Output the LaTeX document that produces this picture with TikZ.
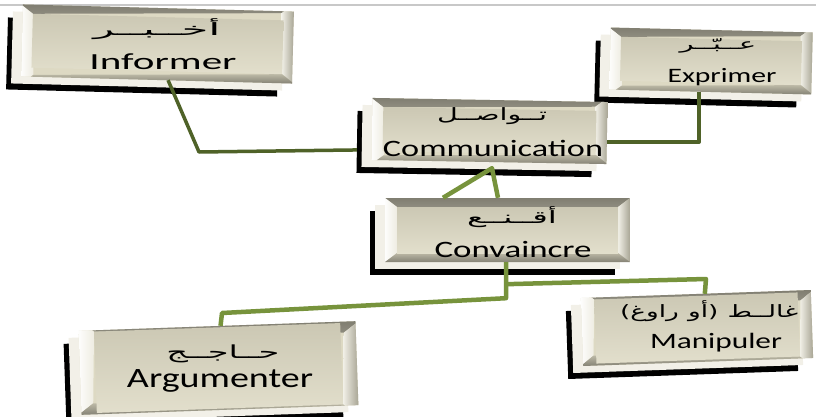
\documentclass[tikz,border=0pt]{standalone}
\usepackage{fontspec}
\usepackage{graphicx}
\setmainfont{Carlito}
\newfontfamily\arabicfont[Script=Arabic]{DejaVu Sans}
\newfontfamily\parenfont{DejaVu Sans}
\TeXXeTstate=1
\usetikzlibrary{calc,shadows}
\definecolor{tileface}{HTML}{DDD9C3}
\definecolor{extr}{HTML}{F2F0E8}
\definecolor{oliveA}{HTML}{4F6228}
\definecolor{oliveB}{HTML}{77933C}
\definecolor{topline}{HTML}{C8C8C8}
\newcommand{\FRtxt}[3]{\resizebox{#2pt}{\height}{\fontsize{#1}{#1}\selectfont #3}}
\newcommand{\ARtxt}[3]{\resizebox{#2pt}{\height}{\fontsize{#1}{#1}\selectfont\arabicfont\beginR #3\endR}}
\newcommand{\ARword}[1]{\hbox{\arabicfont\beginR #1\endR}}
\tikzset{
  tile/.style 2 args={rectangle, inner sep=0pt, draw=none, fill=tileface,
    general shadow={fill=black, shadow xshift=-15pt, shadow yshift=-13pt},
    general shadow={fill=extr, shadow xshift=-10pt, shadow yshift=-7pt},
    path picture={
      \shade[top color=tileface!40!black!70!tileface, bottom color=tileface!60!white]
        (path picture bounding box.north west) -- (path picture bounding box.north east)
        -- ([shift={(-#1,-#2)}]path picture bounding box.north east)
        -- ([shift={(#1,-#2)}]path picture bounding box.north west) -- cycle;
      \shade[left color=white!95!tileface, right color=tileface!50!white]
        (path picture bounding box.north west)
        -- ([shift={(#1,-#2)}]path picture bounding box.north west)
        -- ([shift={(#1,#2)}]path picture bounding box.south west)
        -- (path picture bounding box.south west) -- cycle;
      \shade[left color=tileface!40!white, right color=tileface!60!black!60!tileface]
        (path picture bounding box.north east)
        -- (path picture bounding box.south east)
        -- ([shift={(-#1,#2)}]path picture bounding box.south east)
        -- ([shift={(-#1,-#2)}]path picture bounding box.north east) -- cycle;
      \shade[top color=tileface!85!black, bottom color=tileface!60!black]
        (path picture bounding box.south west)
        -- ([shift={(#1,#2)}]path picture bounding box.south west)
        -- ([shift={(-#1,#2)}]path picture bounding box.south east)
        -- (path picture bounding box.south east) -- cycle;
      \shade[top color=tileface!92!black, bottom color=tileface!85!white]
        ([shift={(#1,-#2)}]path picture bounding box.north west)
        rectangle ([shift={(-#1,#2)}]path picture bounding box.south east);
    }},
  lab/.style={inner sep=0pt, text=black},
  lnA/.style={draw=oliveA, line width=3.5pt, line join=round},
  lnB/.style={draw=oliveB, line width=4.5pt, line join=round}
}
\begin{document}
\begin{tikzpicture}[x=1pt,y=-1pt]
\useasboundingbox[fill=white] (0,0) rectangle (816,417);
\draw[topline, line width=1.2pt] (0,5) -- (816,5);

% tiles
\node[tile={12pt}{9pt}, minimum width=271pt, minimum height=72pt, rotate=-1.5] (inf) at (157.5,44) {};
\node[tile={12pt}{9pt}, minimum width=202pt, minimum height=62pt, rotate=-1.4] (exp) at (711,61) {};
\node[tile={12pt}{9pt}, minimum width=235pt, minimum height=62pt, rotate=-1] (com) at (489.5,131) {};
\node[tile={12pt}{9pt}, minimum width=245pt, minimum height=64pt] (conv) at (507.5,230) {};
\node[tile={15pt}{11pt}, minimum width=277pt, minimum height=84pt, rotate=2] (arg) at (218.5,368) {};
\node[tile={13pt}{10pt}, minimum width=230pt, minimum height=68pt, rotate=2] (man) at (697,328) {};

% labels
\node[lab] (infAr) at (157,29) {\ARtxt{17}{127}{أخــبــر}};
\node[lab, anchor=base] (infFr) at (163,70) {\FRtxt{23}{147}{Informer}};
\node[lab] (expAr) at (718,46) {\ARtxt{15}{77}{عــبّــر}};
\node[lab, anchor=base] (expFr) at (722,83) {\FRtxt{20.5}{109}{Exprimer}};
\node[lab] (comAr) at (492,116) {\ARtxt{17}{110}{تــواصــل}};
\node[lab, anchor=base] (comFr) at (493,157) {\FRtxt{23.5}{220}{Communication}};
\node[lab] (convAr) at (512,217) {\ARtxt{17}{90}{أقــنــع}};
\node[lab, anchor=base] (convFr) at (513,257) {\FRtxt{23.5}{157}{Convaincre}};
\node[lab] (argAr) at (223,354) {\ARtxt{18}{113}{حــاجــج}};
\node[lab, anchor=base] (argFr) at (220,387) {\FRtxt{28}{186}{Argumenter}};
\node[lab] (manAr) at (709,311) {\resizebox{178pt}{\height}{\fontsize{17}{17}\selectfont
  \hbox{\parenfont(}\ARword{راوغ}\hspace{0.35em}\ARword{أو}\hbox{\parenfont)}\hspace{0.35em}\ARword{غالــط}}};
\node[lab, anchor=base] (manFr) at (716,348) {\FRtxt{22}{132}{Manipuler}};

% connectors
\draw[lnA] ($(inf.south)+(11.5,0)$) -- (199,152) -- ($(com.west)+(-15,21)$);
\draw[lnA] ($(exp.south)+(-11,0)$) |- ($(com.east)+(0,9)$);
\draw[lnB] ($(conv.north)+(-64.5,0)$) -- ($(com.south)+(3,6)$) -- ($(conv.north)+(-9.5,0)$);
\draw[lnB] ($(conv.south)+(-1.5,0)$) -- ++(0,36) -- (222,313) -- ($(arg.north)+(3.5,0)$);
\draw[lnB] ($(conv.south)+(-1.5,22)$) -- (706,279) -- ($(man.north)+(9,0)$);
\end{tikzpicture}
\end{document}
